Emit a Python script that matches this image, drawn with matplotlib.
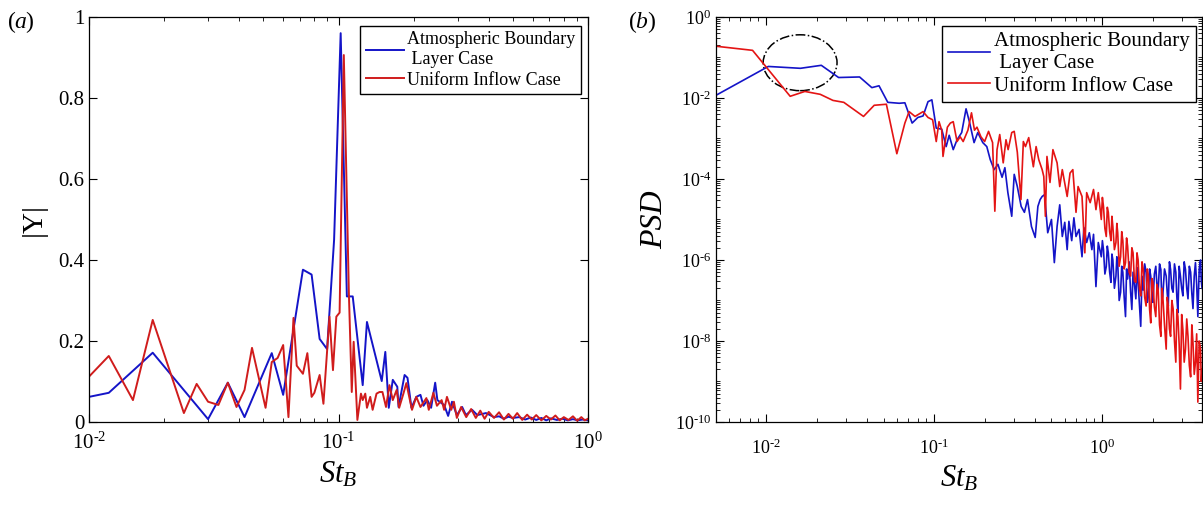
import numpy as np
import matplotlib
matplotlib.use("Agg")
import matplotlib.pyplot as plt
from matplotlib.patches import Ellipse
from matplotlib.ticker import LogLocator, NullFormatter, FixedLocator, FuncFormatter

plt.rcParams['font.family'] = ['Liberation Serif', 'DejaVu Serif']
plt.rcParams['mathtext.fontset'] = 'custom'
plt.rcParams['mathtext.rm'] = 'Liberation Serif'
plt.rcParams['mathtext.it'] = 'Liberation Serif:italic'
plt.rcParams['axes.unicode_minus'] = False

BLUE = '#1414c8'
RED = '#d01c1c'

# ---- panel (a): |Y| spectrum ----
st_a_abl = [0.010, 0.012, 0.018, 0.030, 0.036, 0.042, 0.054, 0.060, 0.072, 0.078,
            0.084, 0.090, 0.096, 0.102, 0.108, 0.114, 0.125, 0.130, 0.149, 0.154,
            0.159, 0.165, 0.172, 0.174, 0.184, 0.189, 0.196, 0.205, 0.213, 0.219,
            0.227, 0.235, 0.244, 0.249, 0.265, 0.275, 0.285, 0.298, 0.313, 0.324,
            0.343, 0.360, 0.390, 0.420, 0.440, 0.460, 0.480, 0.500, 0.530, 0.560,
            0.590, 0.620, 0.650, 0.680, 0.710, 0.750, 0.790, 0.830, 0.870, 0.910,
            0.950, 1.000]
y_a_abl = [0.062, 0.072, 0.171, 0.007, 0.097, 0.012, 0.170, 0.067, 0.376, 0.364,
           0.205, 0.180, 0.450, 0.960, 0.310, 0.310, 0.091, 0.247, 0.101, 0.173,
           0.035, 0.104, 0.087, 0.037, 0.116, 0.109, 0.035, 0.062, 0.067, 0.040,
           0.054, 0.035, 0.097, 0.054, 0.042, 0.015, 0.050, 0.017, 0.037, 0.017,
           0.030, 0.017, 0.022, 0.012, 0.014, 0.008, 0.013, 0.010, 0.012, 0.006,
           0.011, 0.005, 0.010, 0.004, 0.009, 0.005, 0.008, 0.004, 0.007, 0.004,
           0.006, 0.004]

st_a_uni = [0.010, 0.012, 0.015, 0.018, 0.024, 0.027, 0.030, 0.033, 0.036, 0.039,
            0.042, 0.045, 0.051, 0.054, 0.057, 0.060, 0.063, 0.066, 0.068, 0.072,
            0.075, 0.078, 0.080, 0.084, 0.087, 0.092, 0.095, 0.098, 0.101, 0.105,
            0.110, 0.113, 0.115, 0.119, 0.123, 0.125, 0.128, 0.130, 0.134, 0.137,
            0.142, 0.146, 0.150, 0.155, 0.160, 0.165, 0.171, 0.175, 0.182, 0.187,
            0.192, 0.197, 0.205, 0.213, 0.225, 0.230, 0.240, 0.248, 0.259, 0.265,
            0.272, 0.283, 0.290, 0.298, 0.310, 0.325, 0.340, 0.355, 0.370, 0.385,
            0.400, 0.420, 0.440, 0.460, 0.480, 0.500, 0.520, 0.545, 0.570, 0.595,
            0.620, 0.650, 0.680, 0.710, 0.740, 0.770, 0.800, 0.835, 0.870, 0.905,
            0.940, 0.970, 1.000]
y_a_uni = [0.112, 0.163, 0.054, 0.252, 0.022, 0.094, 0.050, 0.042, 0.097, 0.037,
           0.079, 0.183, 0.035, 0.148, 0.158, 0.190, 0.012, 0.257, 0.139, 0.119,
           0.170, 0.062, 0.072, 0.116, 0.045, 0.260, 0.128, 0.260, 0.270, 0.906,
           0.320, 0.074, 0.198, 0.005, 0.070, 0.054, 0.070, 0.035, 0.062, 0.030,
           0.070, 0.074, 0.074, 0.037, 0.091, 0.054, 0.079, 0.035, 0.070, 0.096,
           0.062, 0.030, 0.062, 0.037, 0.059, 0.030, 0.072, 0.040, 0.054, 0.030,
           0.062, 0.030, 0.050, 0.010, 0.037, 0.012, 0.032, 0.010, 0.028, 0.008,
           0.025, 0.010, 0.024, 0.006, 0.020, 0.008, 0.022, 0.005, 0.018, 0.006,
           0.017, 0.004, 0.015, 0.006, 0.016, 0.004, 0.012, 0.005, 0.014, 0.003,
           0.012, 0.004, 0.008]

# ---- panel (b): PSD ----
st_b_abl = [0.0050, 0.0103, 0.0160, 0.0213, 0.0270, 0.0360, 0.0426, 0.0470, 0.0530, 0.0620,
            0.0670, 0.0740, 0.0800, 0.0860, 0.0920, 0.0970, 0.1030, 0.1110, 0.1180, 0.1230,
            0.1300, 0.1370, 0.1460, 0.1550, 0.1630, 0.1730, 0.1820, 0.1950, 0.2060, 0.2160,
            0.2280, 0.2400, 0.2540, 0.2640, 0.2750, 0.2900, 0.3000, 0.3130, 0.3300, 0.3450,
            0.3600, 0.3800, 0.4000, 0.4150, 0.4280, 0.4400, 0.4550, 0.4750, 0.5000, 0.5200,
            0.5400, 0.5600, 0.5800, 0.6000, 0.6200, 0.6350, 0.6600, 0.6800, 0.7000, 0.7300,
            0.7600, 0.7800, 0.8100, 0.8400, 0.8700, 0.8900, 0.9200, 0.9500,
            0.990, 1.005, 1.020, 1.040, 1.060, 1.075, 1.090, 1.110, 1.130, 1.145,
            1.160, 1.185, 1.210, 1.225, 1.240, 1.265, 1.290, 1.310, 1.330, 1.355,
            1.380, 1.400, 1.420, 1.450, 1.480, 1.505, 1.530, 1.560, 1.590, 1.615,
            1.640, 1.670, 1.700, 1.730, 1.760, 1.795, 1.830, 1.860, 1.890, 1.920,
            1.950, 1.980, 2.010, 2.050, 2.090, 2.125, 2.160, 2.200, 2.240, 2.270,
            2.300, 2.355, 2.410, 2.445, 2.480, 2.520, 2.560, 2.605, 2.650, 2.700,
            2.750, 2.790, 2.830, 2.880, 2.930, 2.980, 3.030, 3.085, 3.140, 3.195,
            3.250, 3.310, 3.370, 3.425, 3.480, 3.540, 3.600, 3.660, 3.720, 3.790,
            3.860, 3.900, 3.940]
psd_abl = [1.15e-2, 6.0e-2, 5.4e-2, 6.4e-2, 3.2e-2, 3.3e-2, 1.8e-2, 2.0e-2, 7.8e-3, 7.4e-3,
           7.6e-3, 2.4e-3, 3.3e-3, 3.6e-3, 8.1e-3, 9.0e-3, 1.8e-3, 1.7e-3, 6.3e-4, 1.2e-3,
           5.3e-4, 9.3e-4, 1.4e-3, 5.4e-3, 2.4e-3, 7.9e-4, 1.4e-3, 7.9e-4, 6.3e-4, 3.0e-4,
           1.7e-4, 2.3e-4, 1.1e-4, 1.9e-4, 4.6e-5, 1.2e-5, 1.3e-4, 6.5e-5, 2.1e-5, 1.5e-5,
           3.1e-5, 6.7e-6, 3.6e-6, 2.1e-5, 3.1e-5, 3.7e-5, 4.1e-5, 4.7e-6, 1.0e-5, 8.6e-7,
           6.7e-6, 2.3e-5, 3.8e-6, 8.5e-6, 1.8e-6, 9.0e-6, 3.0e-6, 1.1e-5, 3.8e-6, 5.7e-6,
           1.2e-6, 6.3e-6, 2.7e-6, 4.7e-6, 1.8e-6, 4.3e-6, 2.2e-7, 2.7e-6,
           1.2e-6, 3.0e-6, 1.8e-6, 4.5e-7, 6.9e-7, 2.2e-6, 1.5e-6, 5.0e-7, 2.8e-7, 1.4e-6,
           1.0e-6, 2.0e-7, 4.0e-7, 1.2e-6, 8.6e-7, 1.0e-7, 1.6e-7, 7.0e-7, 5.0e-7, 1.2e-7,
           4.0e-8, 6.0e-7, 3.4e-7, 9.0e-7, 1.6e-7, 6.0e-8, 5.0e-7, 2.5e-7, 1.1e-7, 6.5e-7,
           2.8e-7, 8.0e-8, 2.3e-8, 4.0e-7, 1.8e-7, 8.0e-7, 5.0e-7, 9.0e-8, 1.3e-7, 6.0e-7,
           4.0e-7, 1.5e-7, 9.0e-8, 4.5e-7, 7.0e-7, 2.2e-7, 1.8e-7, 8.0e-7, 5.8e-7, 1.0e-7,
           1.3e-7, 6.0e-7, 4.0e-7, 1.5e-7, 7.3e-8, 9.0e-7, 5.8e-7, 2.0e-7, 1.6e-7, 8.0e-7,
           5.0e-7, 1.2e-7, 5.0e-8, 7.0e-7, 4.0e-7, 2.0e-7, 1.3e-7, 9.0e-7, 5.8e-7, 2.0e-7,
           1.1e-7, 7.0e-7, 5.0e-7, 1.5e-7, 6.3e-8, 4.0e-7, 8.6e-7, 2.5e-7, 4.0e-8, 6.0e-7,
           1.0e-6, 3.0e-7, 2.0e-7]

st_b_uni = [0.0050, 0.0083, 0.0139, 0.0170, 0.0210, 0.0250, 0.0290, 0.0380, 0.0440, 0.0520,
            0.0600, 0.0670, 0.0710, 0.0770, 0.0860, 0.0920, 0.0980, 0.1030, 0.1070, 0.1110,
            0.1130, 0.1200, 0.1250, 0.1300, 0.1370, 0.1430, 0.1490, 0.1590, 0.1670, 0.1740,
            0.1800, 0.1900, 0.2000, 0.2110, 0.2230, 0.2300, 0.2370, 0.2460, 0.2580, 0.2680,
            0.2760, 0.2900, 0.3000, 0.3130, 0.3290, 0.3400, 0.3500, 0.3660, 0.3900, 0.4050,
            0.4200, 0.4400, 0.4500, 0.4600, 0.4700, 0.4900, 0.5100, 0.5400, 0.5600, 0.5800,
            0.6200, 0.6450, 0.6700, 0.7000, 0.7200, 0.7600, 0.7900, 0.8100, 0.8500, 0.8900,
            0.9200, 0.9500,
            0.990, 1.005, 1.020, 1.040, 1.060, 1.075, 1.090, 1.110, 1.130, 1.145,
            1.160, 1.185, 1.210, 1.225, 1.240, 1.265, 1.290, 1.310, 1.330, 1.355,
            1.380, 1.400, 1.420, 1.450, 1.480, 1.505, 1.530, 1.560, 1.590, 1.615,
            1.640, 1.670, 1.700, 1.730, 1.760, 1.795, 1.830, 1.860, 1.890, 1.920,
            1.950, 1.980, 2.010, 2.050, 2.090, 2.125, 2.160, 2.200, 2.240, 2.270,
            2.300, 2.355, 2.410, 2.445, 2.480, 2.520, 2.560, 2.605, 2.650, 2.700,
            2.750, 2.790, 2.830, 2.880, 2.930, 2.980, 3.030, 3.085, 3.140, 3.195,
            3.250, 3.310, 3.370, 3.425, 3.480, 3.540, 3.600, 3.660, 3.720, 3.790,
            3.860, 3.900, 3.940]
psd_uni = [1.9e-1, 1.5e-1, 1.1e-2, 1.45e-2, 1.23e-2, 8.7e-3, 7.8e-3, 3.5e-3, 6.6e-3, 7.0e-3,
           4.2e-4, 2.4e-3, 4.6e-3, 3.5e-3, 4.6e-3, 3.3e-3, 2.9e-3, 8.4e-4, 2.6e-3, 1.6e-3,
           3.6e-4, 1.9e-3, 2.4e-3, 2.6e-3, 8.4e-4, 1.1e-3, 8.4e-4, 1.6e-3, 4.3e-3, 1.6e-3,
           1.9e-3, 1.1e-3, 8.4e-4, 1.5e-3, 7.9e-4, 1.6e-5, 5.3e-4, 1.25e-3, 2.5e-4, 9.3e-4,
           5.3e-4, 1.4e-3, 1.5e-3, 4.6e-4, 3.1e-5, 8.4e-4, 6.3e-4, 1.05e-3, 2.0e-4, 6.3e-4,
           3.0e-4, 1.7e-4, 1.15e-4, 1.2e-5, 3.6e-4, 8.2e-5, 5.3e-4, 2.5e-4, 6.5e-5, 1.7e-4,
           3.7e-5, 1.4e-4, 1.7e-4, 1.5e-5, 6.5e-5, 3.7e-5, 1.5e-6, 4.6e-5, 2.6e-5, 5.5e-5,
           1.75e-5, 4.6e-5,
           1.0e-5, 3.5e-5, 2.1e-5, 6.0e-6, 3.8e-6, 2.0e-5, 1.5e-5, 5.0e-6, 3.0e-6, 1.2e-5,
           6.7e-6, 1.8e-6, 2.7e-6, 8.0e-6, 4.7e-6, 7.0e-7, 1.2e-6, 5.0e-6, 3.0e-6, 6.0e-7,
           8.6e-7, 3.5e-6, 2.2e-6, 5.0e-7, 4.0e-7, 2.0e-6, 1.5e-6, 3.0e-7, 2.8e-7, 1.5e-6,
           1.0e-6, 2.0e-7, 1.3e-7, 9.0e-7, 5.8e-7, 1.2e-7, 7.3e-8, 6.0e-7, 4.0e-7, 6.0e-8,
           2.8e-8, 3.5e-7, 2.8e-7, 7.0e-8, 4.0e-8, 2.5e-7, 1.8e-7, 2.5e-8, 1.3e-8, 2.0e-7,
           1.3e-7, 2.5e-8, 6.3e-9, 1.2e-7, 7.3e-8, 2.0e-8, 1.3e-8, 1.0e-7, 6.3e-8, 1.0e-8,
           3.0e-9, 6.0e-8, 4.0e-8, 8.0e-9, 6.5e-10, 4.5e-8, 1.9e-8, 3.0e-9, 6.3e-9, 3.5e-8,
           1.3e-8, 2.5e-9, 1.3e-9, 2.5e-8, 9.0e-9, 1.5e-9, 3.0e-9, 1.5e-8, 3.1e-10, 1.0e-8,
           6.3e-9, 1.0e-9, 2.0e-9]

label_abl = 'Atmospheric Boundary\n Layer Case'
label_uni = 'Uniform Inflow Case'


def pow10_label(v, pos):
    e = int(round(np.log10(v)))
    if e < 0:
        return r'$\mathregular{10^{\text{-}%d}}$' % (-e)
    return r'$\mathregular{10^{%d}}$' % e


def style_axis(ax, size):
    ax.tick_params(which='both', direction='in', top=True, right=True, labelsize=size)
    ax.tick_params(which='major', length=6, width=0.8)
    ax.tick_params(which='minor', length=3, width=0.6)
    for sp in ax.spines.values():
        sp.set_linewidth(0.9)


fig = plt.figure(figsize=(12.03, 5.05), dpi=100)
ax1 = fig.add_axes([0.074, 0.1644, 0.4148, 0.802])
ax2 = fig.add_axes([0.5952, 0.1644, 0.404, 0.802])

# (a)
ax1.plot(st_a_abl, y_a_abl, color=BLUE, lw=1.4, label=label_abl)
ax1.plot(st_a_uni, y_a_uni, color=RED, lw=1.4, label=label_uni)
ax1.set_xscale('log')
ax1.set_xlim(1e-2, 1)
ax1.set_ylim(0, 1)
ax1.set_yticks([0, 0.2, 0.4, 0.6, 0.8, 1])
ax1.set_yticklabels(['0', '0.2', '0.4', '0.6', '0.8', '1'])
ax1.xaxis.set_major_formatter(FuncFormatter(pow10_label))
style_axis(ax1, 15)
ax1.tick_params(axis='x', pad=8)
ax1.set_xlabel('$St_B$', fontsize=22, labelpad=4)
ax1.set_ylabel('|Y|', fontsize=21, labelpad=8)
ax1.legend(loc='upper right', bbox_to_anchor=(0.986, 0.978), borderaxespad=0,
           fontsize=13, fancybox=False, edgecolor='black', framealpha=1,
           handlelength=2.1, handletextpad=0.2, borderpad=0.3, labelspacing=0.2)
fig.text(0.007, 0.945, '(', fontsize=17)
fig.text(0.012, 0.945, 'a', fontsize=17, style='italic')
fig.text(0.021, 0.945, ')', fontsize=17)

# (b)
ax2.plot(st_b_abl, psd_abl, color=BLUE, lw=1.2, label=label_abl)
ax2.plot(st_b_uni, psd_uni, color='#e41414', lw=1.2, label=label_uni)
ax2.set_xscale('log')
ax2.set_yscale('log')
ax2.set_xlim(0.00503, 3.94)
ax2.set_ylim(1e-10, 1)
ax2.yaxis.set_major_locator(FixedLocator([1e-10, 1e-8, 1e-6, 1e-4, 1e-2, 1]))
ax2.yaxis.set_minor_locator(LogLocator(base=10, subs=np.arange(1, 10), numticks=30))
ax2.yaxis.set_minor_formatter(NullFormatter())
ax2.xaxis.set_major_formatter(FuncFormatter(pow10_label))
ax2.yaxis.set_major_formatter(FuncFormatter(pow10_label))
style_axis(ax2, 13)
ax2.tick_params(axis='x', pad=12)
ax2.set_xlabel('$St_B$', fontsize=22, labelpad=4)
ax2.set_ylabel('PSD', fontsize=23, style='italic', labelpad=4)
ax2.add_patch(Ellipse((0.173, 0.887), 0.152, 0.138, transform=ax2.transAxes,
                      fill=False, ls='-.', lw=1.1, color='black'))
ax2.legend(loc='upper right', bbox_to_anchor=(0.988, 0.978), borderaxespad=0,
           fontsize=15, fancybox=False, edgecolor='black', framealpha=1,
           handlelength=2.0, handletextpad=0.2, borderpad=0.3, labelspacing=0.15)
fig.text(0.523, 0.945, '(', fontsize=17)
fig.text(0.528, 0.945, 'b', fontsize=17, style='italic')
fig.text(0.538, 0.945, ')', fontsize=17)

fig.savefig('out.png', dpi=100)
